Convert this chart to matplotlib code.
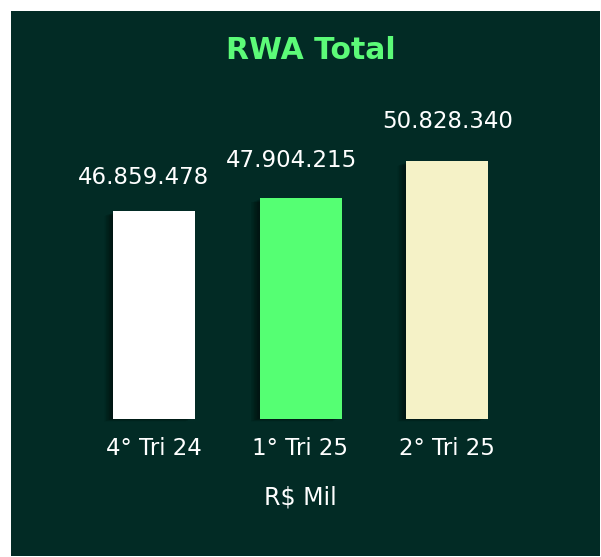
import matplotlib
matplotlib.use("Agg")
import matplotlib.pyplot as plt
from matplotlib.patches import Rectangle

# ---- data ----
categories = ["4° Tri 24", "1° Tri 25", "2° Tri 25"]
values = [46859478, 47904215, 50828340]
value_labels = ["46.859.478", "47.904.215", "50.828.340"]
title = "RWA Total"
unit_label = "R$ Mil"

# ---- style ----
BG = "#022b25"
bar_colors = ["#ffffff", "#55ff73", "#f5f2c7"]
title_color = "#5cfb78"
label_dx_pt = [-7.5, -6.5, 0.5]
label_dy_pt = [19.5, 22.0, 23.5]

W, H = 601, 557
fig = plt.figure(figsize=(W / 100, H / 100), dpi=100, facecolor="white")
fig.patches.append(Rectangle((11 / W, 1 / H), (600 - 11) / W, (556 - 11) / H,
                             transform=fig.transFigure, facecolor=BG,
                             edgecolor="none", zorder=-10))

ax = fig.add_axes([80.75 / W, (H - 419) / H, 439.5 / W, 319 / H])
ax.set_facecolor("none")
ax.set_zorder(5)
for s in ax.spines.values():
    s.set_visible(False)

x = list(range(len(categories)))
ymin = 30.37e6
ymax = ymin + 319 / 12.61 * 1e6
ax.set_xlim(-0.5, len(categories) - 0.5)
ax.set_ylim(ymin, ymax)

bw = 82 / 146.5
px = 1 / 146.5
pxy = 1e6 / 12.61
# soft shadow: stacked translucent copies shifted left/down
for k in range(1, 13):
    ax.bar([xi - k * 0.75 * px for xi in x], [v - ymin - 2 * pxy for v in values],
           bottom=ymin - k * 0.3 * pxy + pxy, width=bw,
           color="black", alpha=0.045, zorder=1, linewidth=0, clip_on=False)
ax.bar(x, [v - ymin for v in values], bottom=ymin, width=bw,
       color=bar_colors, zorder=3, linewidth=0)

for xi, v, lab, dx, dy in zip(x, values, value_labels, label_dx_pt, label_dy_pt):
    ax.annotate(lab, (xi, v), xytext=(dx, dy), textcoords="offset points",
                ha="center", va="baseline", color="white", fontsize=16.5,
                family="DejaVu Sans")

ax.set_yticks([])
ax.set_xticks(x)
ax.set_xticklabels(categories, color="white", fontsize=16.5, family="DejaVu Sans")
ax.tick_params(axis="x", length=0, pad=13)

fig.text(300.5 / W, (H - 505) / H, unit_label, ha="center", va="baseline",
         color="white", fontsize=17, family="DejaVu Sans")
fig.text(310.5 / W, (H - 59) / H, title, ha="center", va="baseline",
         color=title_color, fontsize=21.5, fontweight="bold", family="DejaVu Sans")

fig.savefig("out.png", dpi=100, facecolor="white")
